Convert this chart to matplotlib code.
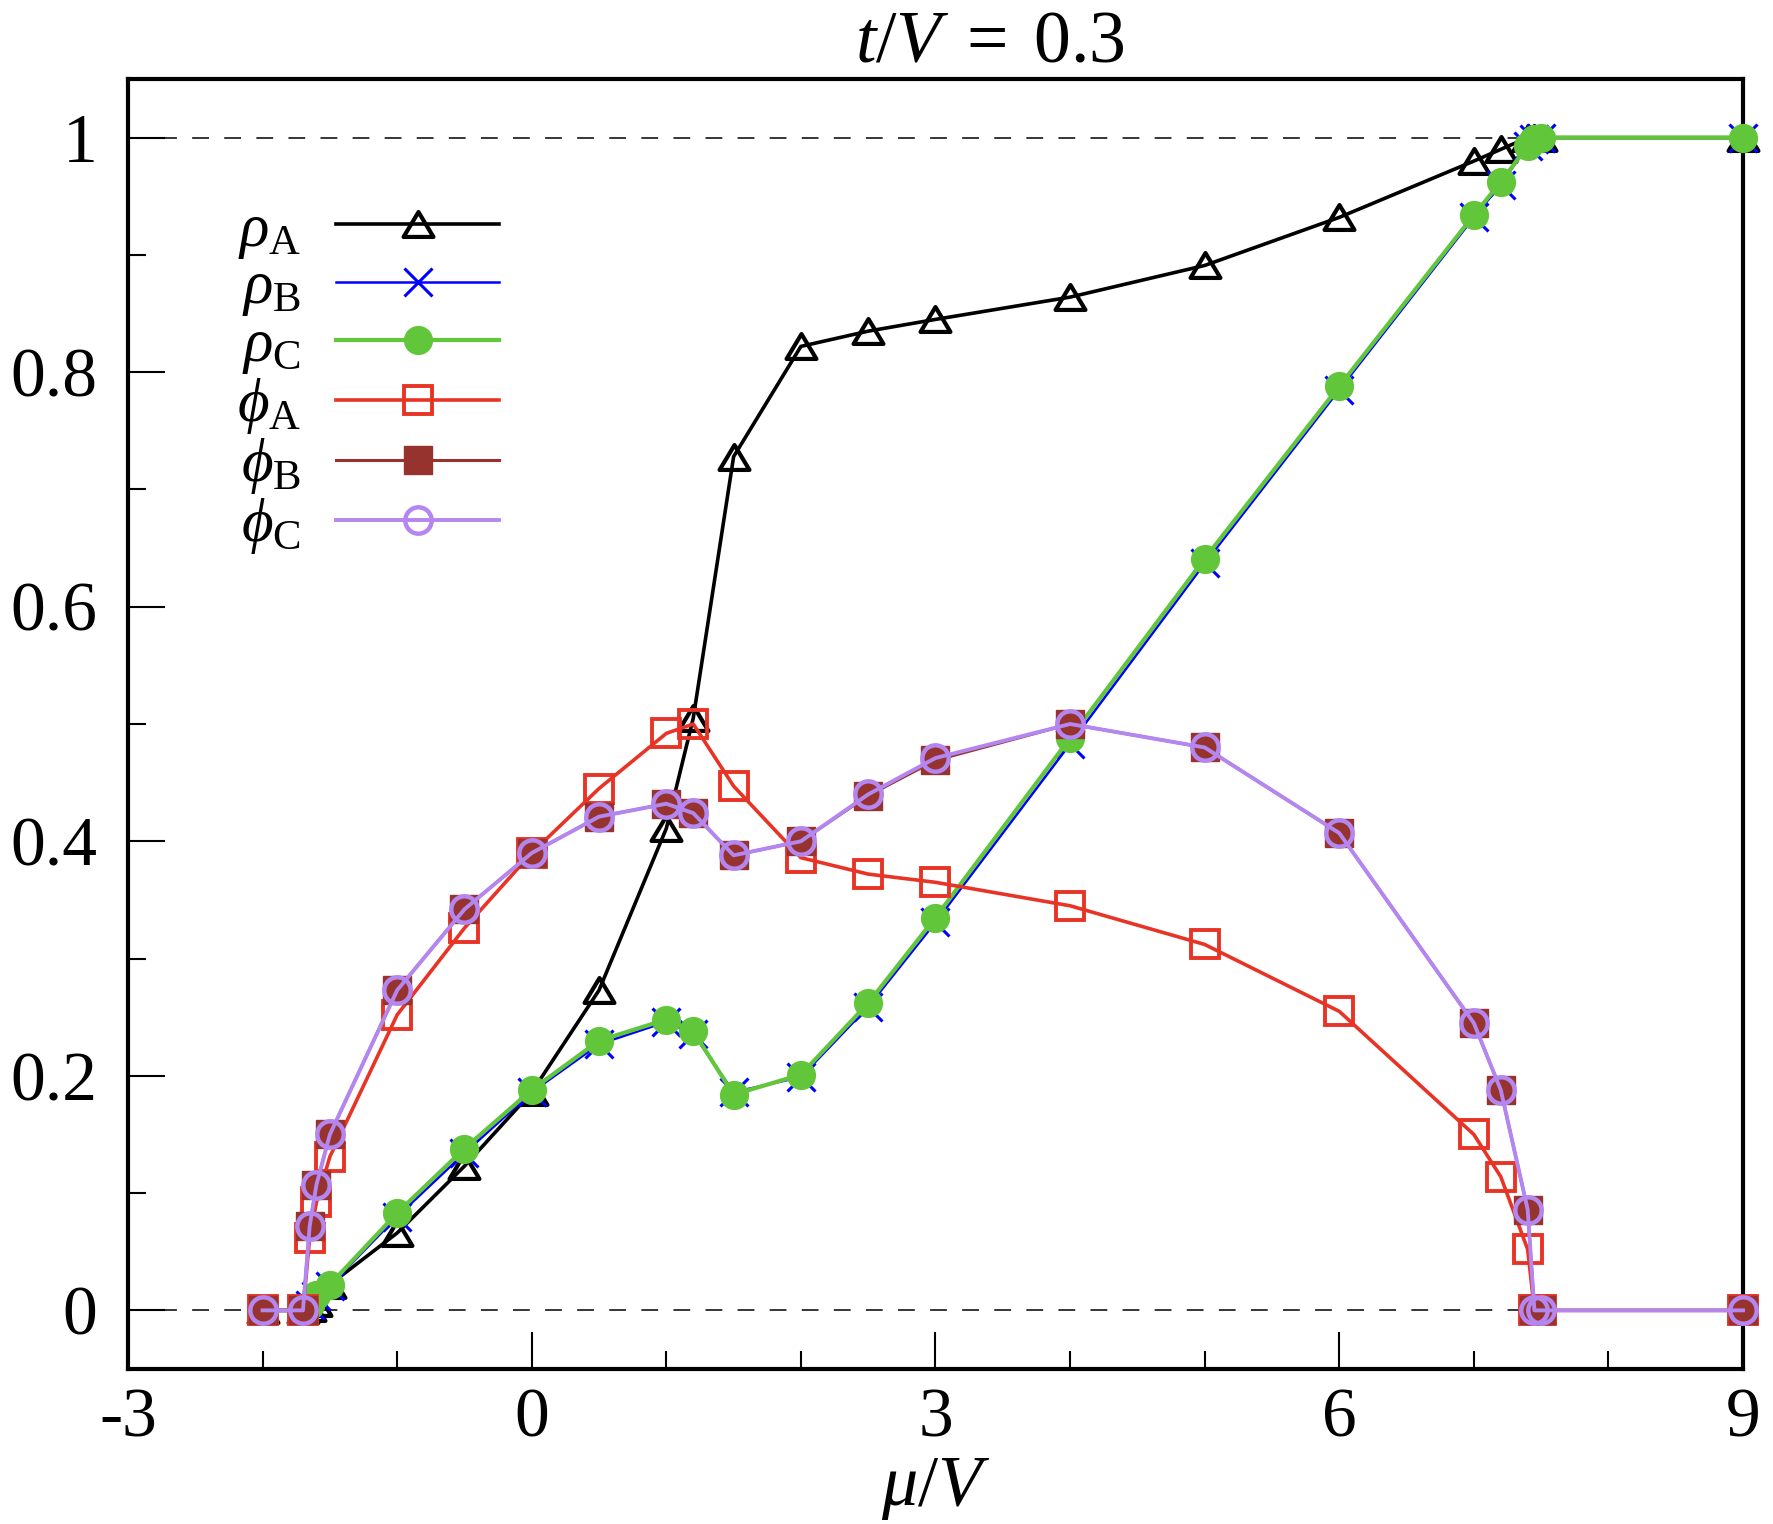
import numpy as np
import matplotlib
matplotlib.use('Agg')
import matplotlib.pyplot as plt
from matplotlib.path import Path
from matplotlib.markers import MarkerStyle

plt.rcParams['font.family'] = 'Liberation Serif'
plt.rcParams['mathtext.fontset'] = 'custom'
plt.rcParams['mathtext.rm'] = 'Liberation Serif'
plt.rcParams['mathtext.it'] = 'Liberation Serif:italic'
plt.rcParams['axes.unicode_minus'] = False

# chemical potential grid (mu/V)
mu = [-2, -1.7, -1.65, -1.6, -1.5, -1, -0.5, 0, 0.5, 1, 1.2, 1.5, 2, 2.5, 3,
      4, 5, 6, 7, 7.2, 7.4, 7.45, 7.5, 9]

rho_A = [0, 0, 0.002, 0.006, 0.022, 0.066, 0.123, 0.186, 0.273, 0.411, 0.505,
         0.728, 0.822, 0.835, 0.845, 0.864, 0.891, 0.932, 0.980, 0.990, 1.0,
         1.0, 1.0, 1.0]
rho_B = [0, 0, 0.005, 0.012, 0.021, 0.080, 0.134, 0.186, 0.227, 0.246, 0.236,
         0.186, 0.199, 0.259, 0.331, 0.483, 0.637, 0.785, 0.932, 0.960, 0.993,
         0.999, 1.0, 1.0]
rho_C = [0, 0, 0.005, 0.013, 0.022, 0.083, 0.138, 0.188, 0.230, 0.248, 0.238,
         0.184, 0.201, 0.262, 0.335, 0.488, 0.641, 0.788, 0.934, 0.962, 0.993,
         0.999, 1.0, 1.0]
phi_A = [0, 0, 0.062, 0.092, 0.131, 0.252, 0.326, 0.390, 0.445, 0.492, 0.500,
         0.447, 0.386, 0.372, 0.365, 0.345, 0.312, 0.255, 0.150, 0.114, 0.052,
         0, 0, 0]
phi_B = [0, 0, 0.072, 0.107, 0.150, 0.273, 0.342, 0.390, 0.421, 0.432, 0.424,
         0.388, 0.400, 0.439, 0.469, 0.500, 0.480, 0.407, 0.245, 0.188, 0.086,
         0, 0, 0]
phi_C = [0, 0, 0.072, 0.107, 0.150, 0.273, 0.342, 0.390, 0.421, 0.432, 0.424,
         0.388, 0.400, 0.440, 0.471, 0.500, 0.480, 0.407, 0.245, 0.188, 0.086,
         0, 0, 0]

labels = [r'$\rho_{\rm A}$', r'$\rho_{\rm B}$', r'$\rho_{\rm C}$',
          r'$\phi_{\rm A}$', r'$\phi_{\rm B}$', r'$\phi_{\rm C}$']

xticks = [-3, 0, 3, 6, 9]
xticklabels = ['-3', '0', '3', '6', '9']
yticks = [0, 0.2, 0.4, 0.6, 0.8, 1.0]
yticklabels = ['0', '0.2', '0.4', '0.6', '0.8', '1']

# wide, flat triangle like the grace symbol
tri = MarkerStyle(Path([(0, 1), (-1.2, -1), (1.2, -1), (0, 1)], closed=True),
                  joinstyle='miter')

styles = [
    dict(color='black', lw=2.6, marker=tri, ms=21.5, mfc='none', mew=3.0),
    dict(color='#0000ff', lw=1.8, marker='x', ms=20, mew=2.2),
    dict(color='#62c63b', lw=3.0, marker='o', ms=20, mew=1),
    dict(color='#e83426', lw=2.6, marker='s', ms=20, mfc='none', mew=2.8),
    dict(color='#96332f', lw=2.2, marker='s', ms=20, mew=1),
    dict(color='#b486f0', lw=2.8, marker='o', ms=19, mfc='none', mew=3.2),
]

fig = plt.figure(figsize=(17.74, 15.24), dpi=100)
ax = fig.add_axes([128 / 1774, 1 - 1369 / 1524, (1743 - 128) / 1774, (1369 - 79) / 1524])

ax.axhline(0, color='black', lw=1.1, dashes=(11, 10), zorder=1)
ax.axhline(1, color='black', lw=1.1, dashes=(11, 10), zorder=1)

for y, st, lab in zip([rho_A, rho_B, rho_C, phi_A, phi_B, phi_C], styles, labels):
    ax.plot(mu, y, label=lab, clip_on=False, zorder=3, **st)

ax.set_xlim(-3, 9)
ax.set_ylim(-0.05, 1.05)
ax.set_xticks(xticks)
ax.set_xticklabels(xticklabels)
ax.set_xticks(np.arange(-3, 10, 1), minor=True)
ax.set_yticks(yticks)
ax.set_yticklabels(yticklabels)
ax.set_yticks(np.arange(0.1, 1.0, 0.2), minor=True)

ax.tick_params(which='both', direction='in', top=False, right=False,
               width=1.5, labelsize=50)
ax.tick_params(which='major', length=26.6)
ax.tick_params(which='minor', length=13)
ax.tick_params(axis='x', pad=14)
ax.tick_params(axis='y', pad=22)
for sp in ax.spines.values():
    sp.set_linewidth(3)

ax.set_xlabel(r'$\mu/V$', fontsize=52, labelpad=3)
fig.text(990 / 1774, 1 - 62 / 1524, r'$t/V\;=\;0.3$', fontsize=53,
         ha='center', va='baseline')

leg = ax.legend(loc='upper left', bbox_to_anchor=(0.0675, 0.904), frameon=False,
                markerfirst=False, fontsize=44, handlelength=2.67,
                handletextpad=0.57, labelspacing=0.0, borderpad=0,
                borderaxespad=0)

fig.savefig('out.png', dpi=100)
